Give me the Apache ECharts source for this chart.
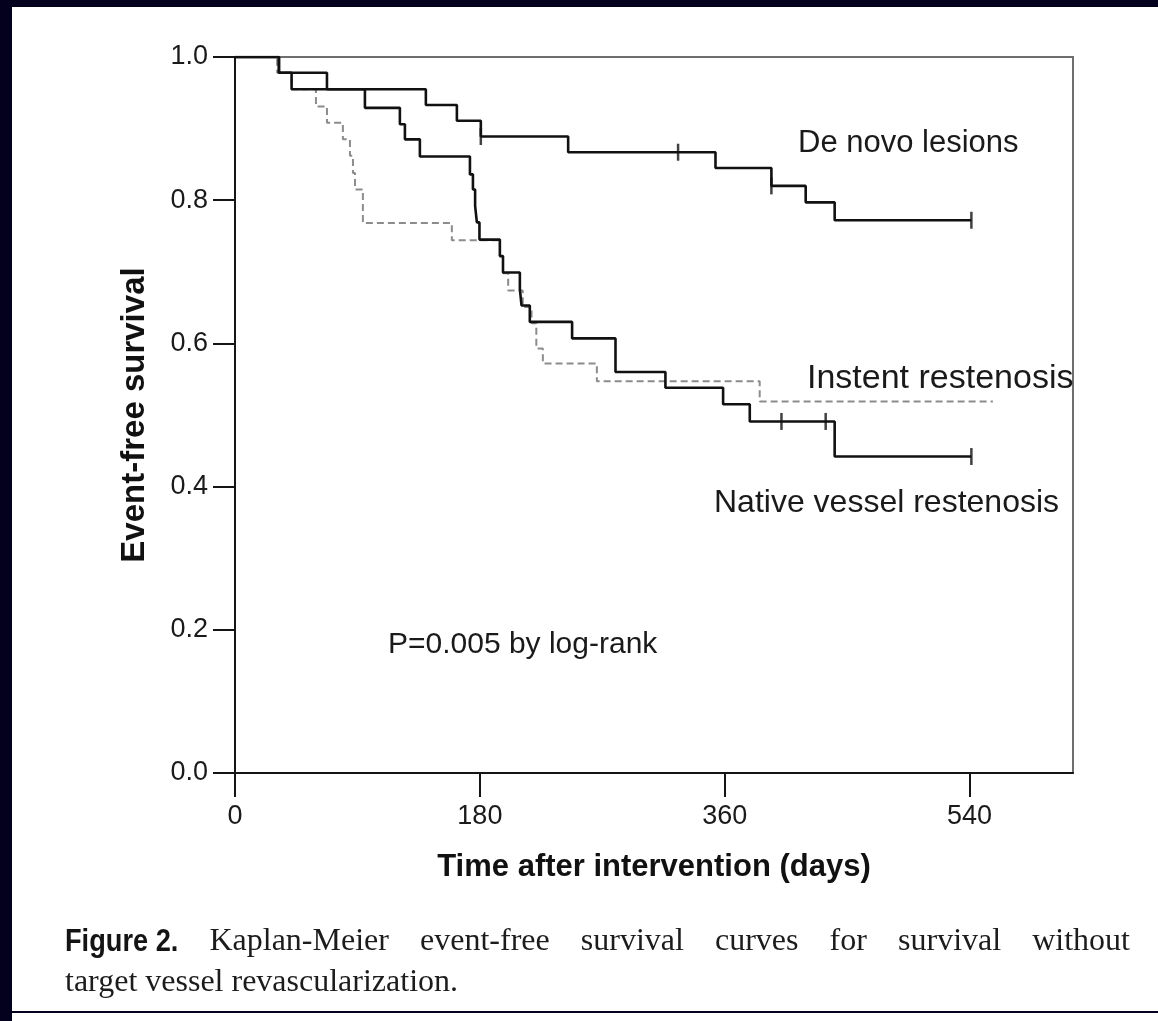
<!DOCTYPE html>
<html>
<head>
<meta charset="utf-8">
<script src="https://cdn.jsdelivr.net/npm/echarts@6/dist/echarts.min.js"></script>
<style>
  html, body { margin: 0; padding: 0; background: #04011f; }
  #chart { width: 1158px; height: 1021px; }
</style>
</head>
<body>
<div id="chart"></div>
<script>
// Axis ticks
const xTicks = [0, 180, 360, 540];
const yTicks = [0, 0.2, 0.4, 0.6, 0.8, 1.0];

// Kaplan-Meier steps: day of each event and survival after it (last entry = end of follow-up)
const deNovoDays = [0, 32.3, 67.6, 140.3, 163.1, 180.7, 244.9, 353.2, 394.3, 419.5, 440.8, 541.3];
const deNovoSurv = [1.0, 0.978, 0.955, 0.933, 0.911, 0.889, 0.867, 0.845, 0.820, 0.797, 0.772, 0.772];

const nativeDays = [0, 32.3, 41.6, 95.5, 121.2, 124.9, 135.9, 172.7, 174.9, 176.5, 177.8, 179.7,
                    194.7, 197.0, 209.4, 210.6, 216.7, 247.8, 279.7, 316.4, 358.8, 378.4, 440.8, 541.3];
const nativeSurv = [1.0, 0.978, 0.955, 0.929, 0.906, 0.885, 0.861, 0.836, 0.815, 0.792, 0.769, 0.745,
                    0.722, 0.699, 0.676, 0.653, 0.630, 0.607, 0.560, 0.538, 0.515, 0.491, 0.442, 0.442];

const instentDays = [0, 31.0, 41.6, 59.5, 67.6, 79.3, 84.5, 86.7, 88.2, 94.0, 159.4, 194.7, 197.0,
                     200.8, 211.5, 218.0, 221.5, 226.3, 266.0, 385.7, 557.1];
const instentSurv = [1.0, 0.978, 0.955, 0.931, 0.908, 0.885, 0.862, 0.838, 0.815, 0.768, 0.744, 0.721, 0.698,
                     0.674, 0.651, 0.628, 0.593, 0.572, 0.547, 0.519, 0.519];

// Censored observations
const deNovoCensorDays = [180.7, 325.7, 394.3, 541.3];
const deNovoCensorSurv = [0.889, 0.867, 0.820, 0.772];
const nativeCensorDays = [401.7, 434.2, 541.3];
const nativeCensorSurv = [0.491, 0.491, 0.442];

// Text
const groupLabels = ['De novo lesions', 'Instent restenosis', 'Native vessel restenosis'];
const pValueText = 'P=0.005 by log-rank';
const xTitle = 'Time after intervention (days)';
const yTitle = 'Event-free survival';
const captionLead = 'Figure 2.';
const captionLine1 = 'Kaplan-Meier event-free survival curves for survival without';
const captionLine2 = 'target vessel revascularization.';

const zip = (a, b) => a.map((v, i) => [v, b[i]]);

const SANS = '"Liberation Sans", Arial, sans-serif';
const SERIF = '"Liberation Serif", "DejaVu Serif", serif';
const INK = '#1a1a1a';

// Caption line 1 is justified between two edges; the bold lead is squeezed horizontally
const measure = (() => {
  const ctx = document.createElement('canvas').getContext('2d');
  return (text, font) => { ctx.font = font; return ctx.measureText(text).width; };
})();
const leadFont = 'bold 32px ' + SANS;
const leadSqueeze = 0.85;
const capFont = '32px ' + SERIF;
const capWords = captionLine1.split(' ');
const capLeft = 65, capRight = 1130;
const widths = [measure(captionLead, leadFont) * leadSqueeze].concat(capWords.map(w => measure(w, capFont)));
const gap = (capRight - capLeft - widths.reduce((s, w) => s + w, 0)) / (widths.length - 1);
const captionEls = [];
let cx = capLeft;
widths.forEach((w, i) => {
  captionEls.push(i === 0 ? {
    type: 'text', x: cx, y: 942, scaleX: leadSqueeze,
    style: { text: captionLead, font: leadFont, fill: '#141414', verticalAlign: 'middle' }
  } : {
    type: 'text', x: cx, y: 942,
    style: { text: capWords[i - 1], font: capFont, fill: '#1c1c1c', verticalAlign: 'middle' }
  });
  cx += w + gap;
});
captionEls.push({
  type: 'text', x: capLeft, y: 983,
  style: { text: captionLine2, font: capFont, fill: '#1c1c1c', verticalAlign: 'middle' }
});

const chart = echarts.init(document.getElementById('chart'), null, { renderer: 'canvas' });

chart.setOption({
  animation: false,
  backgroundColor: '#04011f',
  graphic: [
    { type: 'rect', shape: { x: 12, y: 7, width: 1146, height: 1004 }, style: { fill: '#ffffff' }, z: -10 },
    { type: 'rect', shape: { x: 12, y: 1013, width: 1146, height: 8 }, style: { fill: '#ffffff' }, z: -10 },
    { type: 'text', left: 798, top: 128, style: { text: groupLabels[0], font: '31px ' + SANS, fill: INK } },
    { type: 'text', left: 807, top: 362, style: { text: groupLabels[1], font: '34px ' + SANS, fill: INK } },
    { type: 'text', left: 714, top: 487, style: { text: groupLabels[2], font: '32px ' + SANS, fill: INK } },
    { type: 'text', left: 388, top: 630, style: { text: pValueText, font: '30px ' + SANS, fill: INK } }
  ].concat(captionEls),
  grid: {
    left: 235, top: 57, width: 838, height: 716,
    show: true, borderColor: '#6e6e6e', borderWidth: 2, backgroundColor: 'transparent'
  },
  xAxis: {
    type: 'value', min: 0, max: 616,
    name: xTitle, nameLocation: 'middle', nameGap: 79,
    nameTextStyle: { fontFamily: SANS, fontWeight: 'bold', fontSize: 31, color: '#111' },
    axisLine: { show: true, lineStyle: { color: '#151515', width: 2 } },
    axisTick: { show: true, length: 24, customValues: xTicks, lineStyle: { color: '#151515', width: 2 } },
    axisLabel: { customValues: xTicks, margin: 30, fontFamily: SANS, fontSize: 27, color: INK },
    splitLine: { show: false }
  },
  yAxis: {
    type: 'value', min: 0, max: 1, interval: 0.2,
    name: yTitle, nameLocation: 'middle', nameGap: 84, nameRotate: 90,
    nameTextStyle: { fontFamily: SANS, fontWeight: 'bold', fontSize: 33, color: '#111' },
    axisLine: { show: true, lineStyle: { color: '#151515', width: 2 } },
    axisTick: { show: true, length: 22, customValues: yTicks, lineStyle: { color: '#151515', width: 2 } },
    axisLabel: { customValues: yTicks, margin: 27, fontFamily: SANS, fontSize: 27, color: INK,
                 formatter: v => v.toFixed(1) },
    splitLine: { show: false }
  },
  series: [
    {
      name: groupLabels[1], type: 'line', step: 'end', showSymbol: false,
      data: zip(instentDays, instentSurv),
      lineStyle: { color: '#8c8c8c', width: 2, type: [7, 4] }, z: 2
    },
    {
      name: groupLabels[2], type: 'line', step: 'end', showSymbol: false,
      data: zip(nativeDays, nativeSurv),
      lineStyle: { color: '#111', width: 2.6 }, z: 3
    },
    {
      name: groupLabels[0], type: 'line', step: 'end', showSymbol: false,
      data: zip(deNovoDays, deNovoSurv),
      lineStyle: { color: '#111', width: 2.6 }, z: 3
    },
    {
      type: 'scatter', symbol: 'rect', symbolSize: [2.5, 17],
      data: zip(deNovoCensorDays, deNovoCensorSurv).concat(zip(nativeCensorDays, nativeCensorSurv)),
      itemStyle: { color: '#111' }, z: 4
    }
  ]
});
</script>
</body>
</html>
